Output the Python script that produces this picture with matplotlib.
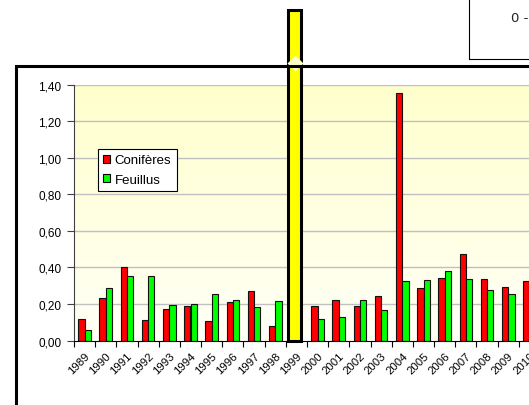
import numpy as np
import matplotlib.pyplot as plt
import matplotlib.patches as patches
import matplotlib.transforms as mtransforms
from matplotlib.ticker import FuncFormatter

plt.rcParams['font.family'] = ['Liberation Sans', 'DejaVu Sans']

# Data
years = [str(y) for y in range(1989, 2011)]
coniferes = [0.12, 0.23, 0.405, 0.11, 0.17, 0.19, 0.108, 0.21, 0.27, 0.08,
             np.nan, 0.19, 0.22, 0.19, 0.245, 1.355, 0.285, 0.34, 0.475, 0.335,
             0.295, 0.325]
feuillus = [0.055, 0.29, 0.355, 0.355, 0.192, 0.20, 0.253, 0.222, 0.183, 0.215,
            np.nan, 0.12, 0.13, 0.22, 0.165, 0.325, 0.33, 0.38, 0.335, 0.275,
            0.255, 0.30]
highlight_year = "1999"
highlight_value = 1.81
y_ticks = [0.0, 0.2, 0.4, 0.6, 0.8, 1.0, 1.2, 1.4]

W, H = 529, 406
fig = plt.figure(figsize=(W / 100, H / 100), dpi=100)
ax = fig.add_axes([74 / W, 1 - 341.5 / H, (540 - 74) / W, (341.5 - 85.7) / H])

x = np.arange(len(years))
ax.set_xlim(-0.5, len(years) - 0.5)
ax.set_ylim(0, 1.4)

# plot area gradient
grad = np.linspace(0, 1, 256).reshape(-1, 1)
top_c = np.array([1.0, 1.0, 0.80])
bot_c = np.array([1.0, 1.0, 0.97])
img = bot_c + (top_c - bot_c) * grad
ax.imshow(img[:, None, :].repeat(2, axis=1), extent=[-0.5, len(years) - 0.5, 0, 1.4],
          origin='lower', aspect='auto', zorder=0)

for yv in y_ticks[1:]:
    ax.axhline(yv, color='#c0c0c0', lw=1.0, zorder=1)

bw = 0.3
ax.bar(x - bw / 2, coniferes, bw, color='#ff0000', edgecolor='#111111', lw=0.8,
       zorder=2, label='Conifères')
ax.bar(x + bw / 2, feuillus, bw, color='#00ff00', edgecolor='#111111', lw=0.8,
       zorder=2, label='Feuillus')

# highlighted year bar, drawn above everything
hi = years.index(highlight_year)
ax.bar(hi - 0.09, highlight_value, 0.62, color='#ffff00', edgecolor='black',
       lw=2.2, zorder=10, clip_on=False)

# axes styling
for s in ['top', 'right']:
    ax.spines[s].set_visible(False)
ax.spines['left'].set_color('#404040')
ax.spines['bottom'].set_color('black')
ax.set_yticks(y_ticks)
ax.yaxis.set_major_formatter(FuncFormatter(lambda v, p: f"{v:.2f}".replace('.', ',')))
ax.tick_params(axis='y', direction='out', length=5, width=0.8, color='#404040',
               labelsize=8.5, pad=4)
ax.set_xticks(np.arange(-0.5, len(years), 1.0))
ax.set_xticklabels([])
ax.tick_params(axis='x', which='major', direction='out', length=4, width=0.8)
ax.set_xticks(x, minor=True)
ax.set_xticklabels(years, minor=True, rotation=45, ha='right', va='top',
                   rotation_mode='anchor', fontsize=8.2)
ax.tick_params(axis='x', which='minor', length=0, pad=7)

# legend
h1 = patches.Rectangle((0, 0), 1, 1, fc='#ff0000', ec='black', lw=0.8)
h2 = patches.Rectangle((0, 0), 1, 1, fc='#00ff00', ec='black', lw=0.8)
leg = fig.legend([h1, h2], ['Conifères', 'Feuillus'], loc='upper left',
                 bbox_to_anchor=(97.7 / W, 1 - 150 / H), fontsize=9.5,
                 handlelength=0.55, handleheight=0.55, handletextpad=0.35,
                 labelspacing=0.55, borderpad=0.4, borderaxespad=0,
                 fancybox=False, framealpha=1, edgecolor='black')
leg.get_frame().set_linewidth(0.8)

# chart area border
fig.add_artist(patches.Rectangle((15.7 / W, -0.1), 1.2, 1 - 67 / H + 0.1,
                                 transform=fig.transFigure, fill=False,
                                 ec='black', lw=2.2, zorder=5))
# box in the corner
fig.add_artist(patches.Rectangle((469 / W, 1 - 60 / H), 0.5, 0.5,
                                 transform=fig.transFigure, fill=False,
                                 ec='black', lw=0.8, zorder=5))
fig.text(511 / W, 1 - 19 / H, "0 -", fontsize=9.5, va='center', ha='left',
         family='DejaVu Sans', color='#222222')

# small glitch where the bar crosses the border
trans = mtransforms.blended_transform_factory(ax.transData, fig.transFigure)
ax.plot([hi - 0.09], [1 - 64 / H], marker='D', ms=8, color='#ffffc8',
        mec='none', transform=trans, zorder=11, clip_on=False)

fig.savefig('out.png', dpi=100)
